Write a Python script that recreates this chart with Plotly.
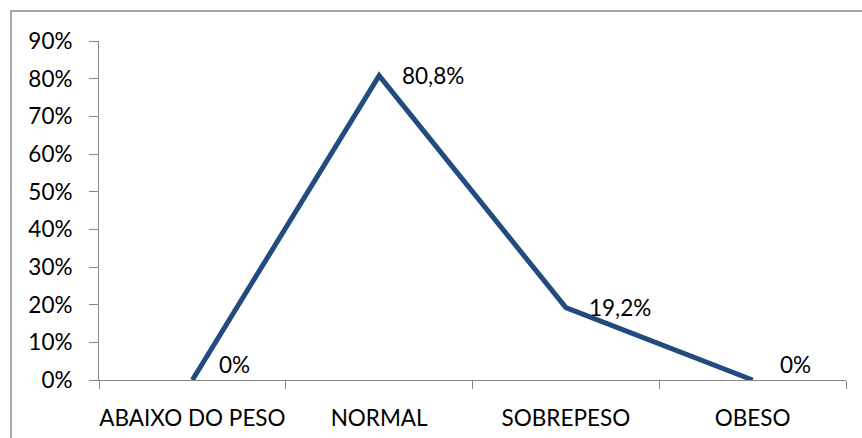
import plotly.graph_objects as go

# Nutritional status distribution
categories = ["ABAIXO DO PESO", "NORMAL", "SOBREPESO", "OBESO"]
shares = [0.0, 0.808, 0.192, 0.0]

line_color = "#224B7E"
axis_color = "#868686"
font_family = "Lato, 'Open Sans', sans-serif"
font_size = 22.5


def pct_label(v):
    p = v * 100
    if abs(p - round(p)) < 1e-9:
        return f"{round(p):d}%"
    return f"{p:.1f}%".replace(".", ",")


fig = go.Figure()
fig.add_trace(go.Scatter(
    x=categories,
    y=shares,
    mode="lines",
    line=dict(color=line_color, width=5),
    hoverinfo="skip",
    showlegend=False,
))

# value labels to the right of each point (zeros lifted above the axis)
for cat, v in zip(categories, shares):
    fig.add_annotation(
        x=cat, y=v, text=pct_label(v), showarrow=False,
        xanchor="left", yanchor="middle",
        xshift=21 if v > 0 else 25, yshift=0 if v > 0 else 16,
        font=dict(family=font_family, size=font_size, color="#000000"),
    )

# outer chart border
fig.add_shape(
    type="rect", xref="paper", yref="paper",
    x0=-0.1178, x1=1.2, y0=-0.4, y1=1.0885,
    line=dict(color="#8C8C8C", width=1.5), fillcolor="rgba(0,0,0,0)",
    layer="below",
)

fig.update_layout(
    width=862, height=438,
    margin=dict(l=99, r=16, t=41, b=58),
    paper_bgcolor="white", plot_bgcolor="white",
    font=dict(family=font_family, size=font_size, color="#000000"),
    separators=",.",
)
fig.update_xaxes(
    type="category", range=[-0.5, 3.5], tickangle=0, automargin=False,
    showline=True, linecolor=axis_color, linewidth=1,
    ticks="outside", tickson="boundaries", ticklen=8, tickcolor=axis_color,
    showgrid=False, zeroline=False, ticklabelstandoff=18,
    tickfont=dict(family=font_family, size=font_size, color="#000000"),
)
fig.update_yaxes(
    range=[0, 0.9], dtick=0.1, tickformat=".0%", automargin=False,
    showline=True, linecolor=axis_color, linewidth=1,
    ticks="outside", ticklen=9, tickcolor=axis_color,
    showgrid=False, zeroline=False, ticklabelstandoff=12,
    tickfont=dict(family=font_family, size=font_size, color="#000000"),
)

fig.write_html("out.html")
